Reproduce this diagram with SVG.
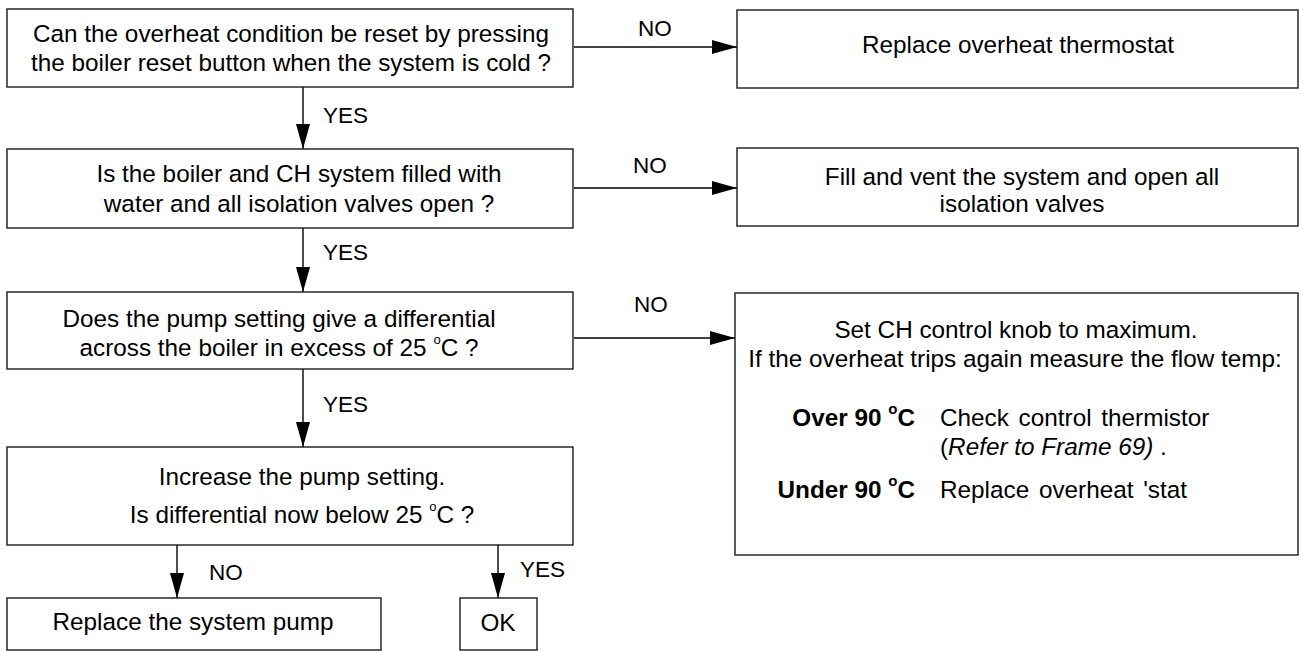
<svg xmlns="http://www.w3.org/2000/svg" width="1304" height="651" viewBox="0 0 1304 651">
<style>
.box{fill:#fff;stroke:#1a1a1a;stroke-width:1.4}
.t{font-family:"Liberation Sans",Arial,sans-serif;font-size:24.3px;fill:#000;text-anchor:middle}
.s{font-family:"Liberation Sans",Arial,sans-serif;font-size:24.3px;fill:#000}
.b{font-family:"Liberation Sans",Arial,sans-serif;font-size:24.3px;font-weight:bold;fill:#000;text-anchor:end}
.lbl{font-family:"Liberation Sans",Arial,sans-serif;font-size:22.5px;fill:#000}
.c{stroke:#000;stroke-width:1.4;fill:none;marker-end:url(#ah)}
.sup{font-size:13px}
.supb{font-size:15px}
</style>
<defs>
<marker id="ah" markerUnits="userSpaceOnUse" markerWidth="25" markerHeight="14" refX="25" refY="7" orient="auto"><path d="M0,0 L25,7 L0,14 Z" fill="#000"/></marker>
</defs>
<rect width="1304" height="651" fill="#fff"/>
<g id="connectors">
<path class="c" d="M574,47 H737"/>
<path class="c" d="M574,188 H737"/>
<path class="c" d="M574,338 H735"/>
<path class="c" d="M303,87 V149"/>
<path class="c" d="M303,228 V292"/>
<path class="c" d="M303,369 V447"/>
<path class="c" d="M177,545 V598"/>
<path class="c" d="M498,545 V598"/>
<text class="lbl" x="638" y="36">NO</text>
<text class="lbl" x="323" y="123">YES</text>
<text class="lbl" x="633" y="173">NO</text>
<text class="lbl" x="323" y="260">YES</text>
<text class="lbl" x="634" y="312">NO</text>
<text class="lbl" x="323" y="412">YES</text>
<text class="lbl" x="209" y="580">NO</text>
<text class="lbl" x="520" y="577">YES</text>
</g>
<g id="n1">
<rect class="box" x="7" y="9" width="566" height="78"/>
<text class="t" x="291" y="42">Can the overheat condition be reset by pressing</text>
<text class="t" x="291" y="71">the boiler reset button when the system is cold ?</text>
</g>
<g id="n2">
<rect class="box" x="737" y="10" width="561" height="78"/>
<text class="t" x="1018" y="53">Replace overheat thermostat</text>
</g>
<g id="n3">
<rect class="box" x="7" y="149" width="566" height="79"/>
<text class="t" x="299" y="182">Is the boiler and CH system filled with</text>
<text class="t" x="299" y="212">water and all isolation valves open ?</text>
</g>
<g id="n4">
<rect class="box" x="737" y="148" width="561" height="78"/>
<text class="t" x="1022" y="185">Fill and vent the system and open all</text>
<text class="t" x="1022" y="212">isolation valves</text>
</g>
<g id="n5">
<rect class="box" x="7" y="292" width="566" height="77"/>
<text class="t" x="279" y="327">Does the pump setting give a differential</text>
<text class="t" x="279" y="356">across the boiler in excess of 25 <tspan class="sup" dy="-12">o</tspan><tspan dy="12">C ?</tspan></text>
</g>
<g id="n6">
<rect class="box" x="735" y="293" width="563" height="262"/>
<text class="t" x="1016" y="338">Set CH control knob to maximum.</text>
<text class="t" x="1015" y="367">If the overheat trips again measure the flow temp:</text>
<text class="b" x="915" y="426">Over 90 <tspan class="supb" dy="-12">o</tspan><tspan dy="12">C</tspan></text>
<text class="s" x="940" y="426" word-spacing="3">Check control thermistor</text>
<text class="s" x="940" y="455">(<tspan font-style="italic">Refer to Frame 69)</tspan> .</text>
<text class="b" x="915" y="498">Under 90 <tspan class="supb" dy="-12">o</tspan><tspan dy="12">C</tspan></text>
<text class="s" x="940" y="498" word-spacing="3">Replace overheat 'stat</text>
</g>
<g id="n7">
<rect class="box" x="7" y="447" width="566" height="98"/>
<text class="t" x="302" y="485">Increase the pump setting.</text>
<text class="t" x="302" y="523">Is differential now below 25 <tspan class="sup" dy="-12">o</tspan><tspan dy="12">C ?</tspan></text>
</g>
<g id="n8">
<rect class="box" x="7" y="598" width="374" height="52"/>
<text class="t" x="193" y="630">Replace the system pump</text>
</g>
<g id="n9">
<rect class="box" x="460" y="598" width="77" height="52"/>
<text class="t" x="498" y="631">OK</text>
</g>
</svg>
